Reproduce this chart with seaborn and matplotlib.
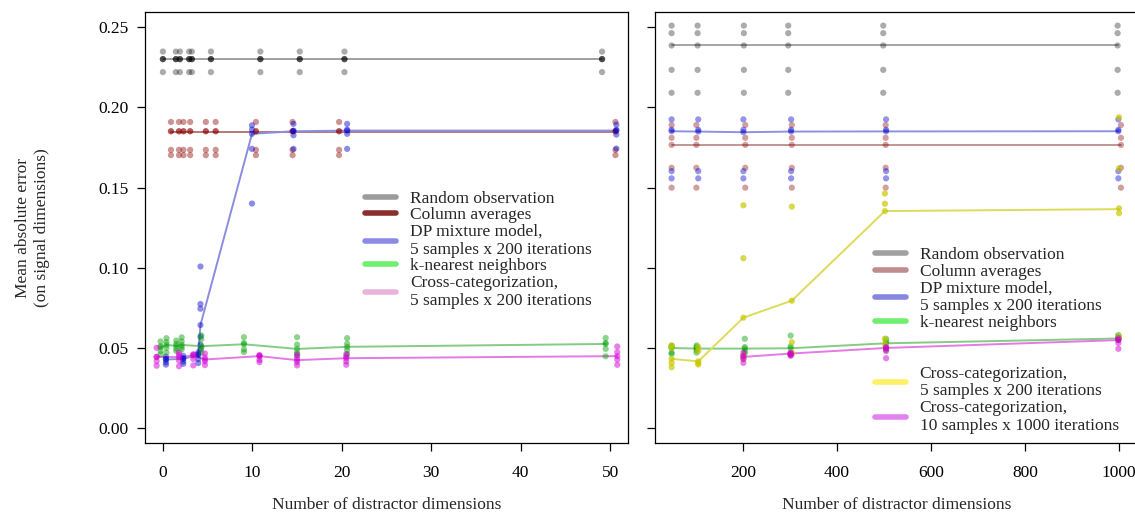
import matplotlib
matplotlib.use("Agg")
import matplotlib.pyplot as plt
import seaborn as sns
from matplotlib.lines import Line2D

sns.set_style("ticks")
plt.rcParams['font.family'] = ['Liberation Serif', 'DejaVu Serif']
plt.rcParams['axes.linewidth'] = 0.9

# ---------------- left panel data (distractor dims 0..50) ----------------
L_gray_x = [0.0, 1.45, 1.9, 2.94, 3.24, 5.37, 10.9, 15.3, 20.3, 49.1]
L_gray_s = [
    [0.2348, 0.2301, 0.2301, 0.2301, 0.2220],
    [0.2348, 0.2301, 0.2301, 0.2301, 0.2220],
    [0.2348, 0.2301, 0.2301, 0.2301, 0.2220],
    [0.2348, 0.2301, 0.2301, 0.2301, 0.2220],
    [0.2348, 0.2301, 0.2301, 0.2301, 0.2220],
    [0.2348, 0.2301, 0.2301, 0.2301, 0.2220],
    [0.2348, 0.2301, 0.2301, 0.2301, 0.2220],
    [0.2348, 0.2301, 0.2301, 0.2301, 0.2220],
    [0.2348, 0.2301, 0.2301, 0.2301, 0.2220],
    [0.2348, 0.2301, 0.2301, 0.2301, 0.2220],
]
L_gray_line = [0.2300, 0.2300, 0.2300, 0.2300, 0.2300, 0.2300, 0.2300, 0.2300, 0.2300, 0.2300]

L_red_x = [0.9, 1.8, 2.3, 3.05, 4.8, 5.9, 10.4, 14.5, 19.7, 50.6]
L_red_s = [
    [0.1909, 0.1851, 0.1851, 0.1735, 0.1702],
    [0.1909, 0.1851, 0.1851, 0.1735, 0.1702],
    [0.1909, 0.1851, 0.1851, 0.1735, 0.1702],
    [0.1909, 0.1851, 0.1851, 0.1735, 0.1702],
    [0.1909, 0.1851, 0.1851, 0.1735, 0.1702],
    [0.1909, 0.1851, 0.1851, 0.1735, 0.1702],
    [0.1909, 0.1851, 0.1851, 0.1735, 0.1702],
    [0.1909, 0.1851, 0.1851, 0.1735, 0.1702],
    [0.1909, 0.1851, 0.1851, 0.1735, 0.1702],
    [0.1909, 0.1851, 0.1851, 0.1735, 0.1702],
]
L_red_line = [0.1847, 0.1847, 0.1847, 0.1847, 0.1847, 0.1847, 0.1847, 0.1847, 0.1847, 0.1847]

L_blue_x = [0.34, 2.27, 3.95, 4.2, 9.96, 14.6, 20.6, 50.7]
L_blue_s = [
    [0.0445, 0.0430, 0.0427, 0.0410, 0.0395],
    [0.0450, 0.0435, 0.0431, 0.0415, 0.0400],
    [0.0470, 0.0460, 0.0456, 0.0430, 0.0405],
    [0.1007, 0.0773, 0.0744, 0.0642, 0.0570, 0.0520, 0.0490],
    [0.1888, 0.1861, 0.1835, 0.1741, 0.1400],
    [0.1897, 0.1855, 0.1851, 0.1826, 0.1741],
    [0.1897, 0.1861, 0.1855, 0.1835, 0.1741],
    [0.1892, 0.1860, 0.1855, 0.1830, 0.1743],
]
L_blue_line = [0.0427, 0.0431, 0.0456, 0.0642, 0.1835, 0.1851, 0.1855, 0.1855]

L_green_x = [-0.26, 0.4, 1.5, 2.1, 4.3, 9.06, 15.0, 20.6, 49.5]
L_green_s = [
    [0.0540, 0.0510, 0.0504, 0.0480, 0.0460],
    [0.0560, 0.0535, 0.0518, 0.0500, 0.0470],
    [0.0545, 0.0525, 0.0512, 0.0495, 0.0480],
    [0.0565, 0.0540, 0.0518, 0.0505, 0.0490],
    [0.0577, 0.0555, 0.0510, 0.0500, 0.0470],
    [0.0566, 0.0530, 0.0522, 0.0490, 0.0473],
    [0.0566, 0.0520, 0.0493, 0.0470, 0.0455],
    [0.0560, 0.0525, 0.0506, 0.0485, 0.0460],
    [0.0561, 0.0530, 0.0524, 0.0493, 0.0447],
]
L_green_line = [0.0504, 0.0518, 0.0512, 0.0518, 0.0510, 0.0522, 0.0493, 0.0506, 0.0524]

L_mag_x = [-0.7, 1.8, 3.4, 4.7, 10.8, 15.0, 20.5, 50.8]
L_mag_s = [
    [0.0500, 0.0443, 0.0443, 0.0417, 0.0388],
    [0.0470, 0.0455, 0.0442, 0.0420, 0.0385],
    [0.0460, 0.0455, 0.0452, 0.0430, 0.0390],
    [0.0465, 0.0440, 0.0427, 0.0415, 0.0392],
    [0.0455, 0.0450, 0.0448, 0.0425, 0.0411],
    [0.0458, 0.0440, 0.0423, 0.0410, 0.0390],
    [0.0460, 0.0445, 0.0435, 0.0415, 0.0394],
    [0.0508, 0.0473, 0.0448, 0.0427, 0.0394],
]
L_mag_line = [0.0443, 0.0442, 0.0452, 0.0427, 0.0448, 0.0423, 0.0435, 0.0448]

# ---------------- right panel data (distractor dims 50..1000) ----------------
R_gray_x = [48.3, 103.6, 202, 296.4, 498.5, 997]
R_gray_s = [
    [0.2510, 0.2463, 0.2386, 0.2234, 0.2091],
    [0.2510, 0.2463, 0.2386, 0.2234, 0.2091],
    [0.2510, 0.2463, 0.2386, 0.2234, 0.2091],
    [0.2510, 0.2463, 0.2386, 0.2234, 0.2091],
    [0.2510, 0.2463, 0.2386, 0.2234, 0.2091],
    [0.2510, 0.2463, 0.2386, 0.2234, 0.2091],
]
R_gray_line = [0.2386, 0.2386, 0.2386, 0.2386, 0.2386, 0.2386]

R_red_x = [48.3, 101, 205, 304, 503.6, 1004]
R_red_s = [
    [0.1890, 0.1810, 0.1766, 0.1623, 0.1499],
    [0.1890, 0.1810, 0.1766, 0.1623, 0.1499],
    [0.1890, 0.1810, 0.1766, 0.1623, 0.1499],
    [0.1890, 0.1810, 0.1766, 0.1623, 0.1499],
    [0.1890, 0.1810, 0.1766, 0.1623, 0.1499],
    [0.1890, 0.1810, 0.1766, 0.1623, 0.1499],
]
R_red_line = [0.1766, 0.1766, 0.1766, 0.1766, 0.1766, 0.1766]

R_blue_x = [48.3, 105, 201, 302.5, 504.5, 998.6]
R_blue_s = [
    [0.1925, 0.1860, 0.1851, 0.1602, 0.1557],
    [0.1925, 0.1860, 0.1849, 0.1602, 0.1557],
    [0.1925, 0.1860, 0.1845, 0.1602, 0.1557],
    [0.1925, 0.1860, 0.1849, 0.1602, 0.1557],
    [0.1925, 0.1860, 0.1850, 0.1602, 0.1557],
    [0.1925, 0.1860, 0.1851, 0.1602, 0.1557],
]
R_blue_line = [0.1851, 0.1849, 0.1845, 0.1849, 0.1850, 0.1851]

R_green_x = [48.3, 101.5, 204, 301.5, 504.5, 998.6]
R_green_s = [
    [0.0514, 0.0505, 0.0499, 0.0470, 0.0462],
    [0.0515, 0.0505, 0.0495, 0.0485, 0.0470],
    [0.0556, 0.0505, 0.0495, 0.0480, 0.0465],
    [0.0576, 0.0510, 0.0497, 0.0465, 0.0460],
    [0.0556, 0.0540, 0.0528, 0.0500, 0.0485],
    [0.0580, 0.0570, 0.0560, 0.0555, 0.0550],
]
R_green_line = [0.0499, 0.0495, 0.0495, 0.0497, 0.0528, 0.0558]

R_yel_x = [48.3, 105, 201, 304, 502, 1000]
R_yel_s = [
    [0.0514, 0.0500, 0.0431, 0.0406, 0.0379],
    [0.0505, 0.0480, 0.0415, 0.0405, 0.0396],
    [0.1389, 0.1059, 0.0688, 0.0452, 0.0431],
    [0.1381, 0.0794, 0.0535, 0.0470, 0.0460],
    [0.1463, 0.1399, 0.1353, 0.0556, 0.0520],
    [0.1938, 0.1619, 0.1370, 0.1340, 0.0570],
]
R_yel_line = [0.0431, 0.0415, 0.0688, 0.0794, 0.1353, 0.1365]

R_mag_x = [201, 301.5, 504.5, 998.6]
R_mag_s = [
    [0.0470, 0.0450, 0.0443, 0.0430, 0.0406],
    [0.0470, 0.0464, 0.0460, 0.0455, 0.0450],
    [0.0505, 0.0499, 0.0495, 0.0480, 0.0435],
    [0.0560, 0.0550, 0.0548, 0.0530, 0.0494],
]
R_mag_line = [0.0443, 0.0464, 0.0499, 0.0548]

x_ticks_left = [0, 10, 20, 30, 40, 50]
x_ticks_right = [200, 400, 600, 800, 1000]
y_ticks = [0.00, 0.05, 0.10, 0.15, 0.20, 0.25]
y_tick_labels = ["0.00", "0.05", "0.10", "0.15", "0.20", "0.25"]

legend_left = [
    ("Random observation", "#9c9c9c"),
    ("Column averages", "#8b2e2e"),
    ("DP mixture model,\n5 samples x 200 iterations", "#8c8ce6"),
    ("k-nearest neighbors", "#6ef06e"),
    ("Cross-categorization,\n5 samples x 200 iterations", "#e8b4dc"),
]
legend_right = [
    ("Random observation", "#a0a0a0"),
    ("Column averages", "#c08c8c"),
    ("DP mixture model,\n5 samples x 200 iterations", "#8787e1"),
    ("k-nearest neighbors", "#6ef06e"),
    ("\n", None),
    ("Cross-categorization,\n5 samples x 200 iterations", "#fff064"),
    ("Cross-categorization,\n10 samples x 1000 iterations", "#e182f0"),
]

FS = 12.5

fig = plt.figure(figsize=(11.35, 5.18), dpi=100)
W, H = 1135, 518
ax1 = fig.add_axes([145 / W, 1 - 443 / H, 483 / W, 431 / H])
ax2 = fig.add_axes([655 / W, 1 - 443 / H, 488 / W, 431 / H])


def draw(ax, xs, samples, line_y, pcolor, palpha, lcolor):
    px = [x for x, s in zip(xs, samples) for _ in s]
    py = [v for s in samples for v in s]
    sns.lineplot(x=xs, y=line_y, ax=ax, color=lcolor, lw=1.4,
                 estimator=None, sort=False, zorder=2)
    sns.scatterplot(x=px, y=py, ax=ax, color=pcolor, alpha=palpha, s=20,
                    edgecolor="none", linewidth=0, zorder=3)


draw(ax1, L_gray_x, L_gray_s, L_gray_line, "black", 0.33, "#a0a0a0")
draw(ax1, L_red_x, L_red_s, L_red_line, "#8b0000", 0.42, "#b47878")
draw(ax1, L_blue_x, L_blue_s, L_blue_line, "#0000cd", 0.45, "#8c8ce0")
draw(ax1, L_green_x, L_green_s, L_green_line, "#00a000", 0.45, "#84cc84")
draw(ax1, L_mag_x, L_mag_s, L_mag_line, "#d200d2", 0.5, "#e47ae4")

draw(ax2, R_gray_x, R_gray_s, R_gray_line, "black", 0.33, "#a4a4a4")
draw(ax2, R_red_x, R_red_s, R_red_line, "#8b0000", 0.38, "#c49494")
draw(ax2, R_blue_x, R_blue_s, R_blue_line, "#0000cd", 0.42, "#9090e0")
draw(ax2, R_green_x, R_green_s, R_green_line, "#00a000", 0.45, "#84cc84")
draw(ax2, R_yel_x, R_yel_s, R_yel_line, "#c8c800", 0.7, "#dcdc5a")
draw(ax2, R_mag_x, R_mag_s, R_mag_line, "#d200d2", 0.5, "#e47ae4")

for ax in (ax1, ax2):
    ax.set_ylim(-0.0094, 0.2595)
    ax.set_yticks(y_ticks)
    ax.tick_params(axis="both", direction="out", length=6, width=0.9,
                   labelsize=FS, colors="black")
    ax.tick_params(axis="x", pad=10)
    ax.tick_params(axis="y", pad=6)
    for sp in ax.spines.values():
        sp.set_visible(True)
        sp.set_color("black")
    ax.set_xlabel("Number of distractor dimensions", fontsize=FS)
    ax.xaxis.set_label_coords(0.5, -0.125)

ax1.set_xlim(-2.0, 52.0)
ax1.set_xticks(x_ticks_left)
ax1.set_yticklabels(y_tick_labels)
ax1.set_ylabel("Mean absolute error\n(on signal dimensions)", fontsize=FS)
ax1.yaxis.set_label_coords(-0.197, 0.5)

ax2.set_xlim(13, 1051)
ax2.set_xticks(x_ticks_right)
ax2.set_yticklabels([])
ax2.set_ylabel("")
ax2.xaxis.set_label_coords(483 / 488 * 0.5, -0.125)


def make_legend(ax, items, anchor):
    handles, labels = [], []
    for lab, col in items:
        if col is None:
            handles.append(Line2D([], [], color="none", lw=0))
        else:
            handles.append(Line2D([], [], color=col, lw=4))
        labels.append(lab)
    leg = ax.legend(handles, labels, loc="upper left", bbox_to_anchor=anchor,
                    frameon=False, fontsize=FS, borderaxespad=0, borderpad=0,
                    handlelength=1.8, handletextpad=0.8, labelspacing=0.03)
    for t in leg.get_texts():
        t.set_linespacing(1.15)
    return leg


make_legend(ax1, legend_left, (0.455, 0.586))
make_legend(ax2, legend_right, (0.450, 0.455))

fig.savefig("out.png", dpi=100, facecolor="white")
